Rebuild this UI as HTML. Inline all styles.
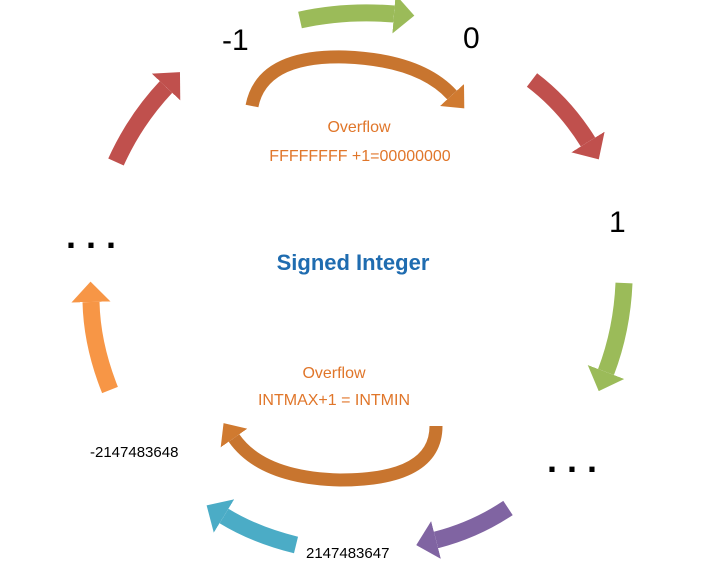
<!DOCTYPE html>
<html><head><style>
html,body{margin:0;padding:0;background:#fff;width:715px;height:583px;overflow:hidden}
</style></head><body>
<svg width="715" height="583" viewBox="0 0 715 583" xmlns="http://www.w3.org/2000/svg" font-family="Liberation Sans, sans-serif">
<defs>
<marker id="hg" viewBox="0 0 10 10" refX="0" refY="5" markerWidth="1.2" markerHeight="2.3" orient="auto" preserveAspectRatio="none"><path d="M0,0 L10,5 L0,10 z" fill="#9bbb59"/></marker>
<marker id="hr" viewBox="0 0 10 10" refX="0" refY="5" markerWidth="1.2" markerHeight="2.3" orient="auto" preserveAspectRatio="none"><path d="M0,0 L10,5 L0,10 z" fill="#c0504d"/></marker>
<marker id="hp" viewBox="0 0 10 10" refX="0" refY="5" markerWidth="1.2" markerHeight="2.3" orient="auto" preserveAspectRatio="none"><path d="M0,0 L10,5 L0,10 z" fill="#8064a2"/></marker>
<marker id="hc" viewBox="0 0 10 10" refX="0" refY="5" markerWidth="1.2" markerHeight="2.3" orient="auto" preserveAspectRatio="none"><path d="M0,0 L10,5 L0,10 z" fill="#4bacc6"/></marker>
<marker id="ho" viewBox="0 0 10 10" refX="0" refY="5" markerWidth="1.2" markerHeight="2.3" orient="auto" preserveAspectRatio="none"><path d="M0,0 L10,5 L0,10 z" fill="#f79646"/></marker>
<marker id="hb" viewBox="0 0 10 10" refX="0" refY="5" markerWidth="1.4" markerHeight="2.5" orient="auto" preserveAspectRatio="none"><path d="M0,0 L10,5 L0,10 z" fill="#d07a30"/></marker>
</defs>
<g fill="none" stroke-width="17">
<path d="M300,20 Q345,10 394,14" stroke="#9bbb59" marker-end="url(#hg)"/>
<path d="M532,80 Q565,105 588,142" stroke="#c0504d" marker-end="url(#hr)"/>
<path d="M624,283 Q622,330 606,372" stroke="#9bbb59" marker-end="url(#hg)"/>
<path d="M508,508 Q475,530 436,540" stroke="#8064a2" marker-end="url(#hp)"/>
<path d="M296,545 Q255,535 224,516" stroke="#4bacc6" marker-end="url(#hc)"/>
<path d="M110,390 Q92,345 91,302" stroke="#f79646" marker-end="url(#ho)"/>
<path d="M116,162 Q135,120 166,87" stroke="#c0504d" marker-end="url(#hr)"/>
</g>
<g fill="none" stroke="#c8752f" stroke-width="13">
<path d="M252,106 Q262,55 345,57 Q420,60 452,95" marker-end="url(#hb)"/>
<path d="M436,426 Q436,480 340,480 Q262,478 234,438" marker-end="url(#hb)"/>
</g>
<g font-size="30" fill="#000">
<text x="222" y="50">-1</text>
<text x="463" y="48">0</text>
<text x="609" y="232">1</text>
<text x="66" y="248" font-size="36" font-weight="bold">. . .</text>
<text x="547" y="472" font-size="36" font-weight="bold">. . .</text>
</g>
<g font-size="15" fill="#000">
<text x="90" y="457">-2147483648</text>
<text x="306" y="558">2147483647</text>
</g>
<g font-size="16" fill="#e0762a" text-anchor="middle">
<text x="359" y="132">Overflow</text>
<text x="360" y="161">FFFFFFFF +1=00000000</text>
<text x="334" y="378">Overflow</text>
<text x="334" y="405">INTMAX+1 = INTMIN</text>
</g>
<text x="353" y="270" font-size="22" font-weight="bold" fill="#1f6cb0" text-anchor="middle">Signed Integer</text>
</svg>
</body></html>
